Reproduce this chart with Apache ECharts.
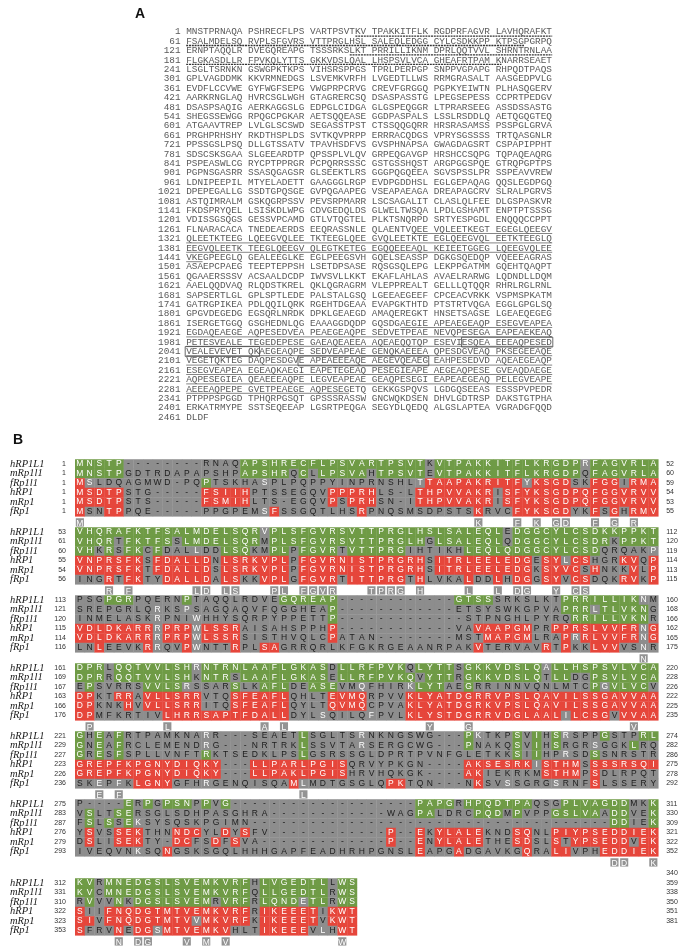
<!DOCTYPE html>
<html><head><meta charset="utf-8">
<script src="https://cdn.jsdelivr.net/npm/echarts/dist/echarts.min.js"></script>
<style>html,body{margin:0;padding:0;background:#fff}#c{width:685px;height:948px}</style>
</head><body><div id="c"></div>
<script>
// ---------- Panel A : hRP1L1 protein sequence ----------
const seqLineNumbers = [1,61,121,181,241,301,361,421,481,541,601,661,721,781,841,901,961,1021,1081,1141,1201,1261,1321,1381,1441,1501,1561,1621,1681,1741,1801,1861,1921,1981,2041,2101,2161,2221,2281,2341,2401,2461];
const seqLines = [
'MNSTPRNAQA PSHRECFLPS VARTPSVTKV TPAKKITFLK RGDPRFAGVR LAVHQRAFKT',
'FSALMDELSQ RVPLSFGVRS VTTPRGLHSL SALEQLEDGG CYLCSDKKPP KTPSGPGRPQ',
'ERNPTAQQLR DVEGQREAPG TSSSRKSLKT PRRILLIKNM DPRLQQTVVL SHRNTRNLAA',
'FLGKASDLLR FPVKQLYTTS GKKVDSLQAL LHSPSVLVCA GHEAFRTPAM KNARRSEAET',
'LSGLTSRNKN GSWGPKTKPS VIHSRSPPGS TPRLPERPGP SNPPVGPAPG RHPQDTPAQS',
'GPLVAGDDMK KKVRMNEDGS LSVEMKVRFH LVGEDTLLWS RRMGRASALT AASGEDPVLG',
'EVDFLCCVWE GYFWGFSEPG VWGPRPCRVG CREVFGRGGQ PGPKYEIWTN PLHASQGERV',
'AARKRNGLAQ HVRCSGLWGH GTAGRERCSQ DSASPASSTG LPEGSEPESS CCPRTPEDGV',
'DSASPSAQIG AERKAGGSLG EDPGLCIDGA GLGSPEQGGR LTPRARSEEG ASSDSSASTG',
'SHEGSSEWGG RPQGCPGKAR AETSQQEASE GGDPASPALS LSSLRSDDLQ AETQGQGTEQ',
'ATGAAVTREP LVLGLSCSWD SEGASSTPST CTSSQQGQRR HRSRASAMSS PSSPGLGRVA',
'PRGHPRHSHY RKDTHSPLDS SVTKQVPRPP ERRRACQDGS VPRYSGSSSS TRTQASGNLR',
'PPSSGSLPSQ DLLGTSSATV TPAVHSDFVS GVSPHNAPSA GWAGDAGSRT CSPAPIPPHT',
'SDSCSKSGAA SLGEEARDTP QPSSPLVLQV GRPEQGAVGP HRSHCCSQPG TQPAQEAQRG',
'PSPEASWLCG RYCPTPPRGR PCPQRRSSSC GSTGSSHQST ARGPGGSPQE GTRQPGPTPS',
'PGPNSGASRR SSASQGAGSR GLSEEKTLRS GGGPQGQEEA SGVSPSSLPR SSPEAVVREW',
'LDNIPEEPIL MTYELADETT GAAGGGLRGP EVDPGDDHSL EGLGEPAQAG QQSLEGDPGQ',
'DPEPEGALLG SSDTGPQSGE GVPQGAAPEG VSEAPAEAGA DREAPAGCRV SLRALPGRVS',
'ASTQIMRALM GSKQGRPSSV PEVSRPMARR LSCSAGALIT CLASLQLFEE DLGSPASKVR',
'FKDSPRYQEL LSISKDLWPG CDVGEDQLDS GLWELTWSQA LPDLGSHAMT ENPTPTSSSG',
'VDISSGSQGS GESSVPCAMD GTLVTQGTEL PLKTSNQRPD SRTYESPGDL ENQQQCCPPT',
'FLNARACACA TNEDEAERDS EEQRASSNLE QLAENTVQEE VQLEETKEGT EGEGLQEEGV',
'QLEETKTEEG LQEEGVQLEE TKTEEGLQEE GVQLEETKTE EGLQEEGVQL EETKTEEGLQ',
'EEGVQLEETK TEEGLQEEGV QLEGTKETEG EGQQEEEAQL KEIEETGGEG LQEEGVQLEE',
'VKEGPEEGLQ GEALEEGLKE EGLPEEGSVH GQELSEASSP DGKGSQEDQP VQEEEAGRAS',
'ASAEPCPAEG TEEPTEPPSH LSETDPSASE RQSGSQLEPG LEKPPGATMM GQEHTQAQPT',
'QGAAERSSSV ACSAALDCDP IWVSVLLKKT EKAFLAHLAS AVAELRARWG LQDNDLLDQM',
'AAELQQDVAQ RLQDSTKREL QKLQGRAGRM VLEPPREALT GELLLQTQQR RHRLRGLRNL',
'SAPSERTLGL GPLSPTLEDE PALSTALGSQ LGEEAEGEEF CPCEACVRKK VSPMSPKATM',
'GATRGPIKEA PDLQQILQRK RGEHTDGEAA EVAPGKTHTD PTSTRTVQGA EGGLGPGLSQ',
'GPGVDEGEDG EGSQRLNRDK DPKLGEAEGD AMAQEREGKT HNSETSAGSE LGEAEQEGEG',
'ISERGETGGQ GSGHEDNLQG EAAAGGDQDP GQSDGAEGIE APEAEGEAQP ESEGVEAPEA',
'EGDAQEAEGE AQPESEDVEA PEAEGEAQPE SEDVETPEAE NEVQPESEGA EAPEAEKEAQ',
'PETESVEALE TEGEDEPESE GAEAQEAEEA AQEAEQQTQP ESEVIESQEA EEEAQPESED',
'VEALEVEVET QKAEGEAQPE SEDVEAPEAE GENQKAEEEA QPESDGVEAQ PKSEGEEAQE',
'VEGETQKTEG DAQPESDGVE APEAEEEAQE AEGEVQEAEG EAHPESEDVD AQEAEGEAQP',
'ESEGVEAPEA EGEAQKAEGI EAPETEGEAQ PESEGIEAPE AEGEAQPESE GVEAQDAEGE',
'AQPESEGIEA QEAEEEAQPE LEGVEAPEAE GEAQPESEGI EAPEAEGEAQ PELEGVEAPE',
'AEEEAQPEPE GVETPEAEGE AQPESEGETQ GEKKGSPQVS LGDGQSEEAS ESSSPVPEDR',
'PTPPPSPGGD TPHQRPGSQT GPSSSRASSW GNCWQKDSEN DHVLGDTRSP DAKSTGTPHA',
'ERKATRMYPE SSTSEQEEAP LGSRTPEQGA SEGYDLQEDQ ALGSLAPTEA VGRADGFQQD',
'DLDF'];
// [line, firstChar, lastChar, kind]  d = heavy underline, t = thin underline
const underlines = [[0,30,64,'d'],[1,0,59,'d'],[2,29,64,'d'],[3,0,55,'d'],
 [21,40,64,'t'],[22,0,64,'t'],[23,0,64,'t'],[24,0,2,'t'],
 [31,38,64,'t'],[32,0,64,'t'],[33,0,64,'t'],[34,0,64,'t'],[35,0,64,'t'],[36,0,64,'t'],[37,0,64,'t'],[38,0,28,'t']];
const boxes = [[33,49,64],[34,0,12],[35,20,42]];

// ---------- Panel B : alignment ----------
const rowNames = ['hRP1L1','mRp1l1','fRp1l1','hRP1','mRp1','fRp1'];
// colour codes (run-length): g green, r red, n grey, w grey with white letter
const seq1 = ['MNSTP--------RNAQAPSHRECFLPSVARTPSVTKVTPAKKITFLKRGDPRFAGVRLA','MNSTPGDTRDAPAPSHPAPSHRQCLLPSVAHTPSVTEVTPAKKITFLKRGDPQFAGVRLA','MSLDQAGMWD-PQPTSKHASPLPQPPYINPRNSHLTTAAPAKRITFYKSGDSKFGGIRMA','MSDTPSTG-----FSIIHPTSSEGQVPPPRHLS-LTHPVVAKRISFYKSGDPQFGGVRVV','MSDTPSTS-----FSMIHLTS-EGQVPSPRHSN-ITHPVVAKRISFYKSGDPQFGGVRVV','MSNTPPQE-----PPGPEMSFSSGQTLHSRPNQSMSDPSTSKRVCFYKSGDYKFSGHRMV'];
const col1 = ['g5n12g19n1g15w1g7','g5n12g5n1g1n1g5n1g5n1g15n1g7','r1w1n8n1n2g1n5w1n15w1r10w1r4n2r3n1r1r2','r5n8r5n8r5n4r8n1r16','r5n8r5n8r1n1r3n4r8n1r16','r1n2r2n3n5n6w1r1n8r1n11r1n3r6n2r1n1r1n1r3'];
const cons1 = 'M1 K42 F46 K48 G50 D51 F54 G56 R58';
const start1 = [1,1,1,1,1,1], end1 = [52,60,59,54,53,55];

const seq2 = ['VHQRAFKTFSALMDELSQRVPLSFGVRSVTTPRGLHSLSALEQLEDGGCYLCSDKKPPKT','VHQRTFKTFSSLMDELSQRMPLSFGVRSVTTPRGLHGLSALEQLQDGGCYLCSDRKPPKT','VHKRSFKCFDALLDDLSQKMPLPFGVRTVTTPRGIHTIKHLEQLQDGGCYLCSDQRQAKP','VNPRSFKSFDALLDNLSRKVPLPFGVRNISTPRGRHSITRLEELEDGESYLCSHGRKVQP','VNPRSFKTFDALLDSLSRKVPLPFGVRNISTPRGRHSITRLEELEDGKSYVCSHNKKVLP','INGRTFKTYDALLDALSKKVPLGFGVRTITTPRGTHLVKALDDLHDGGSYVCSDQKRVKP'];
const col2 = ['g19w1g24n1g15','g4n1g5n1g8n1g16n1g7n1g10n1g4','g2n1g1n1g2n1g1n3w1n2g3n2g2n1g4n1g6n6g14n5w1','r7n1r6n1r7n1r13n1r10n1r2w1r2n3r2n1r1','r7n1r6n1r7n1r13n1r10n1r4n1r1n3r1n1r1','n3r1n1r2n2r5n1r2n2r3n1r4n1r6n1r1n4r1n2r1n1r2n1r2n1r2n3r2n1r1'];
const cons2 = 'R4 F6 L13 D14 L16 S17 P21 L22 F24 G25 V26 R27 T31 P32 R33 G34 H36 L41 L44 D46 G47 Y50 C52 S53';
const start2 = [53,61,60,55,54,56], end2 = [112,120,119,114,113,115];

const seq3 = ['PSGPGRPQERNPTAQQLRDVEGQREAP------------GTSSSRKSLKTPRRILLIKNM','SREPGRLQRKSPSAGQAQVFQGGHEAP------------ETSYSWKGPVAPRRLTLVKNG','INMELASKRPNIWHHYSQRPYPPETTP-------------STPNGHLPYRQRRILLVKNR','VDLDKARRRPRPWLSSRAISAHSPPHP------------VAVAAPGMPRPPRSLVVFRNG','VDLDKARRRPRPWLSSRSISTHVQLCPATAN--------MSTMAPGMLRAPRRLVVFRNG','LNLEEVKRRQVPWNTTRPLSAGRRQRLKFGKRGEAANRPAKVTERVAVRTPKKLVVVSNR'];
const col3 = ['n3g3n5g1n9g6n12g4n7g8w1n1','n8w1n2w1n14g1n12n11g3w1g4g1n1','n8w1n3w1n13g1n13n11g8n1','r8w1r3w1r4n9r1n12n2r6n2r9w1r1','r8w1r3w1r4n9r1n4n8n3r5n3r1w1r6w1r1','n2r1n4r1w1n2r1w1n3r1n2r2n20r1n6r1n1r1n2r3n2w1n1'];
const cons3 = 'N59';
const start3 = [113,121,120,115,114,116], end3 = [160,168,166,162,165,175];

const seq4 = ['DPRLQQTVVLSHRNTRNLAAFLGKASDLLRFPVKQLYTTSGKKVDSLQALLHSPSVLVCA','DPRRQQTVVLSHKNTRSLAAFLGKASELLRFPVKQVYTTRGKKVDSLQTLLDGPSVLVCA','EPSVRRSVVLSRSSARSLKAFLDEASEVMQFHIRKLYTAEGRRINNVQNLMTCPGVLVCV','DPKTRRAVLLSRRVTQSFEAFLQHLTEVMQRPVVKLYATDGRRVPSLQAVILSSGAVVAA','DPKNKHVVLLSRRITQSFEAFLQYLTQVMQCPVAKLYATDGRKVPSLQAVILSSGAVVAA','DPMFKRTIVLHRRSAPTFDALLDYLSQILQFPVLKLYSTDGRRVDGLAALILCSGVVVAA'];
const col4 = ['g3n1g8w1g13n1g7n1g4n1g8w1g11','g3n1g8n1g3n1g9n1g8n1g3n1g8n1g2n2g7','n1g1n5g4w1n4g1n2g3n2g3n2w1n4w1g3n2g1n12g1w1g4n1','r2n2r2n1r6n3r6n4r4n4r26','r2n3r1n1r6n3r6n4r4n4r26','r2n7r13n3w1n4w1n3r16w1r4n1r4'];
const cons4 = 'P2 L10 A20 L22 Y37 G41 V58';
const start4 = [161,169,167,163,166,176], end4 = [220,228,226,222,225,235];

const seq5 = ['GHEAFRTPAMKNARR---SEAETLSGLTSRNKNGSWG---PKTKPSVIHSRSPPGSTPRL','GNEAFRCLEMENDRG---NRTRKLSSVTARSERGCWG---PNAKQSVIHSRGRSGGKLRQ','GRESFSPLLVNFTRKTSEDKLPSLGSRSSGLDPRTPVNFGLETKKSIIHPRSDSSNRSTR','GREPFKPGNYDIQKY---LLPARLPGISQRVYPKGN----AKSESRKISTHMSSSSRSQI','GREPFKPGNYDIQKY---LLPAKLPGISHRVHQKGK----AKIEKRKMSTHMPSDLRPQT','SKEPFKLGNYGFHRGENQISQAMLMDTGSGLQPKTQN---NKSVSSGRGSRNFSLSSERY'];
const col5 = ['g1n1g1n1g1n8w1n9g1n5w1n10g1w1n3g1n1g1n1g1w1n3g1n3g2','g1n1g1n1g1n8w1n9g1n5w1n10g1n4g1n1g1n1g1n3w1n3g1n2','g1n1g1n1g1n8g1n9g1n21g1n1g1n1n1w1n2g1n6','r15n3r10n8n4r7w1r4n1r7','r15n3r10n8n4r2n6r4n1r1n6','n2w1n1w1n1r4n3w1n8r1w1n8r2n3n3n1r1n2w1n4w1n3r1n6'];
const cons5 = 'E3 F5 L24';
const start5 = [221,229,227,223,226,236], end5 = [274,282,286,275,278,292];

const seq6 = ['P----ERPGPSNPPVG-------------------PAPGRHPQDTPAQSGPLVAGDDMKK','VSLTSERSGLSDHPASGHRA------------WAGPALDRCPQDMPVPPGSLVAADDVEK','FSLSSEKSYSQSKPGIMN-------------------------------------DDIEK','YSVSSEKTHNNDCYLDYSFV------------P--EKYLALEKNDSQNLPIYPSEDDIEK','DSLISEKTY-DCFSDFSVA-------------P--ENYLALETHESDSLSTYPSEDDVEK','IVEQVNKSQNGSKSGQLHHHGAPFEADHRHPGNSLEAPGADGAVKGQRALIVPHEDDIEK'];
const col6 = ['n5g1n1g1n1g3n1g1n1g1n19g4n1g7n3g7n2g1','n1g1n2g2n14n12n3g2n3n1g3n1g1n3g5n1g2n1n1g1','n1g1n1g1n1g1w1n11n37g2n2g1','n1r1n2r3n3r3n2r1n1r1n2n12r1n2r1n1r5n3r2n2r6r5','n1r1n2r3n2n1r2n2r1n1r1n2n13r1n2r1n1r5n3r2n2r1n1r4r2n1r2','n6w1n2r1n25r1n3r1n6r1n2r2n3r6'];
const cons6 = 'D56 D57 K60';
const start6 = [275,283,287,276,279,293], end6 = [311,330,309,321,322,352];

const seq7 = ['KVRMNEDGSLSVEMKVRFHLVGEDTLLWS','KVCMNEDGSLSVEMKVRFQLLGEDTLRWS','RVVVNKDGSLSVEMRVRFRLQNDETLRWS','SIIFNQDGTMTVEMKVRFRIKEEETIKWT','SIVFNQDGTMTVVMKVRFKIKEEETVKWT','SFRVNEDGSMTVEMKVHLTIKEEEVLHWT'];
const col7 = ['g2n1g15n1g7n1g2','g2n1g15n1g7n1g2','n1g1n2g1n1g8n1g3n1g4w1g2n1g2','r1n2r15n1r6n1r3','r2n1r9w1r5n1r6n1r3','r1n3r1n1r2w1r7n3r5n1w1n1r2'];
const cons7 = 'N5 D7 G8 V12 M14 V16 W28';
const start7 = [312,331,310,322,323,353];
const end7 = ['340','359','338','350','351','381'];   // printed one line higher in the original figure

// ---------- build ----------
const GREEN = '#6f9b46', RED = '#e6463b', GREY = '#8d8d8d', CGREY = '#939393';
const FILL = {g:GREEN, r:RED, n:GREY, w:GREY, k:CGREY};
const INK = {g:'#ffffff', r:'#ffffff', n:'#1c1c1c', w:'#ffffff', k:'#ffffff'};
function rle(s){const out=[];s.replace(/([a-z])(\d+)/g,(m,c,n)=>{for(let i=0;i<+n;i++)out.push(c);});return out;}
function parseCons(s){return s.split(' ').map(t=>[t[0], parseInt(t.slice(1),10)]);}

const blocks = [
 {seq:seq1,col:col1,cons:cons1,start:start1,end:end1},
 {seq:seq2,col:col2,cons:cons2,start:start2,end:end2},
 {seq:seq3,col:col3,cons:cons3,start:start3,end:end3},
 {seq:seq4,col:col4,cons:cons4,start:start4,end:end4},
 {seq:seq5,col:col5,cons:cons5,start:start5,end:end5},
 {seq:seq6,col:col6,cons:cons6,start:start6,end:end6},
 {seq:seq7,col:col7,cons:cons7,start:start7,end:end7}
];

const P = 9.5;            // row pitch
const CW = 9.72;          // column width
const GL = 75;            // grid left
const cols60 = Array.from({length:60},(_,i)=>String(i));

const grid=[], xAxis=[], yAxis=[], series=[];
blocks.forEach((b,k)=>{
  const extra = k===6 ? 1 : 0;
  const nRows = 7 + extra;
  const row1 = k<6 ? 464 + 68*k : 883;
  grid.push({left:GL, top: row1 - P/2 - extra*P, width: 60*CW, height: nRows*P});
  xAxis.push({gridIndex:k, type:'category', data:cols60, show:false});
  const rowsIdx = Array.from({length:nRows},(_,i)=>String(i));
  const leftLab = [], rightLab = [];
  for(let i=0;i<nRows;i++){leftLab.push('');rightLab.push('');}
  b.seq.forEach((s,r)=>{ leftLab[r+extra] = '{n|'+rowNames[r]+'}{s|'+b.start[r]+'}'; });
  b.end.forEach((e,r)=>{ rightLab[r] = String(e); });
  const common = {gridIndex:k, type:'category', inverse:true, data:rowsIdx,
    axisLine:{show:false}, axisTick:{show:false}, splitLine:{show:false}};
  yAxis.push(Object.assign({}, common, {position:'left', axisLabel:{interval:0, margin:9,
    formatter:v=>leftLab[+v],
    rich:{n:{width:36, align:'left', fontFamily:'Liberation Serif', fontStyle:'italic', fontSize:10.5, color:'#1a1a1a'},
          s:{width:20, align:'right', fontFamily:'Liberation Sans', fontSize:7, color:'#333'}}}}));
  yAxis.push(Object.assign({}, common, {position:'right', axisLabel:{interval:0, margin:8,
    formatter:v=>rightLab[+v], fontFamily:'Liberation Sans', fontSize:7, color:'#333'}}));

  const cells = [];
  b.seq.forEach((s,r)=>{ const codes = rle(b.col[r]); for(let c=0;c<s.length;c++) cells.push({c, r:r+extra, ch:s[c], code:codes[c]||'n'}); });
  parseCons(b.cons).forEach(([ch,col])=>cells.push({c:col-1, r:6+extra, ch, code:'k'}));
  series.push({type:'custom', xAxisIndex:k, yAxisIndex:2*k, silent:true, animation:false,
    data: cells.map(d=>[d.c, d.r]),
    renderItem:(params, api)=>{
      const d = cells[params.dataIndex];
      const p = api.coord([d.c, d.r]);
      const s = api.size([1,1]);
      let x = p[0]-s[0]/2, y = p[1]-s[1]/2, w = s[0]+0.35, h = s[1]+0.35, ty = p[1];
      if(d.code==='k'){ x += 0.8; w = s[0]-1.6; y += 2; h = s[1]-1.2; ty = p[1]+2.6; }
      return {type:'group', children:[
        {type:'rect', shape:{x, y, width:w, height:h}, style:{fill:FILL[d.code]}},
        {type:'text', style:{text:d.ch, x:p[0], y:ty, align:'center', verticalAlign:'middle',
          font:'8.5px "Liberation Sans"', fill:INK[d.code]}}
      ]};
    }});
});

// panel A grid (index 7)
const AL = 158, ACW = 5.64, AP = 9.4, ATOP = 32 - AP/2;
grid.push({left:AL, top:ATOP, width:70*ACW, height:42*AP});
xAxis.push({gridIndex:7, type:'value', min:0, max:70, show:false});
yAxis.push({gridIndex:7, type:'category', inverse:true, data:seqLineNumbers.map(String), show:false});
const AFONT = '9.4px "Liberation Mono"';
series.push({type:'custom', xAxisIndex:7, yAxisIndex:14, silent:true, animation:false,
  data: seqLines.map((t,i)=>[0,i]),
  renderItem:(params, api)=>{
    const i = params.dataIndex;
    const pn = api.coord([4, i]), ps = api.coord([5, i]);
    return {type:'group', children:[
      {type:'text', style:{text:String(seqLineNumbers[i]), x:pn[0], y:pn[1], align:'right', verticalAlign:'middle', font:AFONT, fill:'#5a5a5a'}},
      {type:'text', style:{text:seqLines[i], x:ps[0], y:ps[1], align:'left', verticalAlign:'middle', font:AFONT, fill:'#5a5a5a'}}
    ]};
  }});
series.push({type:'custom', xAxisIndex:7, yAxisIndex:14, silent:true, animation:false,
  data: underlines.map(u=>[5+u[1], u[0]]),
  renderItem:(params, api)=>{
    const u = underlines[params.dataIndex];
    const a = api.coord([5+u[1], u[0]]), b = api.coord([5+u[2]+1, u[0]]);
    const y = a[1]+4.1;
    return {type:'line', shape:{x1:a[0], y1:y, x2:b[0]-0.6, y2:y},
      style:{stroke: u[3]==='d' ? '#333' : '#666', lineWidth: u[3]==='d' ? 1.3 : 0.8,
             lineDash: u[3]==='d' ? [2,0.8] : null}};
  }});
series.push({type:'custom', xAxisIndex:7, yAxisIndex:14, silent:true, animation:false,
  data: boxes.map(u=>[5+u[1], u[0]]),
  renderItem:(params, api)=>{
    const u = boxes[params.dataIndex];
    const a = api.coord([5+u[1], u[0]]), b = api.coord([5+u[2]+1, u[0]]);
    return {type:'rect', shape:{x:a[0]-1, y:a[1]-5, width:b[0]-a[0]+1, height:9.8},
      style:{fill:'none', stroke:'#444', lineWidth:0.8}};
  }});

const chart = echarts.init(document.getElementById('c'), null, {renderer:'canvas'});
chart.setOption({
  backgroundColor:'#ffffff',
  animation:false,
  title:[
    {text:'A', left:130, top:2, textStyle:{fontFamily:'Liberation Sans', fontWeight:'bold', fontSize:14, color:'#111'}},
    {text:'B', left:8, top:428, textStyle:{fontFamily:'Liberation Sans', fontWeight:'bold', fontSize:14, color:'#111'}}
  ],
  grid, xAxis, yAxis, series
});
</script></body></html>
